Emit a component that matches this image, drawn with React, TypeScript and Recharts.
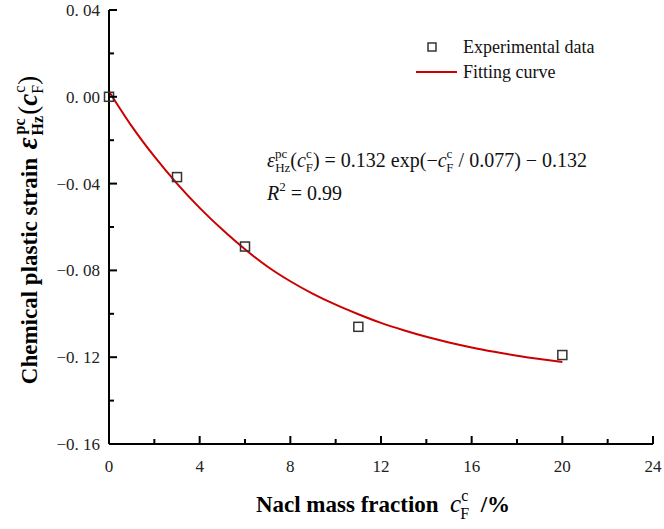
import React from 'react';
import { ComposedChart, Line, Scatter, XAxis, YAxis, Legend } from 'recharts';

// measured points (NaCl mass fraction %, chemical plastic strain)
const massFraction = [0, 3, 6, 11, 20];
const plasticStrain = [0, -0.037, -0.069, -0.106, -0.119];

// fitting curve
const fitFraction = [0, 1, 2, 3, 4, 5, 6, 7, 8, 9, 10, 11, 12, 13, 14, 15, 16, 17, 18, 19, 20];
const fitStrain = [
  0.0025, -0.0135, -0.0275, -0.04, -0.0512, -0.0612, -0.0703, -0.0783, -0.085, -0.0908, -0.0958,
  -0.1002, -0.1042, -0.1076, -0.1106, -0.1132, -0.1155, -0.1175, -0.1193, -0.1208, -0.1222,
];

const xTicks = [0, 2, 4, 6, 8, 10, 12, 14, 16, 18, 20, 22, 24];
const yTicks = [-0.16, -0.14, -0.12, -0.1, -0.08, -0.06, -0.04, -0.02, 0, 0.02, 0.04];

const pointData = massFraction.map((x, i) => ({ x, y: plasticStrain[i] }));
const curveData = fitFraction.map((x, i) => ({ x, y: fitStrain[i] }));

const SERIF = '"Liberation Serif", "Times New Roman", serif';
const RED = '#cc0000';

const fmtY = (v: number) => {
  const s = Math.abs(v).toFixed(2).replace('.', '. ');
  return v < 0 ? '\u2212' + s : s;
};

const YTick = (props: any) => {
  const { x, y, payload } = props;
  const v = payload.value;
  const major = Math.round(v * 100) % 4 === 0;
  return (
    <g>
      <line x1={x} x2={x + (major ? 8 : 5)} y1={y} y2={y} stroke="#000" strokeWidth={2} />
      {major && (
        <text x={x - 9} y={y} dy="0.35em" textAnchor="end" fontFamily={SERIF} fontSize={17} fill="#222">
          {fmtY(v)}
        </text>
      )}
    </g>
  );
};

const XTick = (props: any) => {
  const { x, y, payload } = props;
  const v = payload.value;
  const major = v % 4 === 0;
  return (
    <g>
      <line x1={x} x2={x} y1={y} y2={y - (major ? 8 : 5)} stroke="#000" strokeWidth={2} />
      {major && (
        <text x={x} y={y + 28} textAnchor="middle" fontFamily={SERIF} fontSize={17} fill="#222">
          {v}
        </text>
      )}
    </g>
  );
};

const YTitle = (props: any) => {
  const { viewBox } = props;
  const cy = viewBox.y + viewBox.height / 2 + 3;
  return (
    <text
      transform={`translate(37, ${cy}) rotate(-90)`}
      textAnchor="middle"
      fontFamily={SERIF}
      fontSize={23}
      fontWeight="bold"
      fill="#000"
    >
      Chemical plastic strain{'\u00a0'}
      <tspan fontStyle="italic" fontSize={29} dx={3}>ε</tspan>
      <tspan fontSize={16} dx={3} dy={-12}>pc</tspan>
      <tspan fontSize={16} dx={-17} dy={18}>Hz</tspan>
      <tspan fontWeight="normal" fontSize={27} dx={1} dy={-6}>(</tspan>
      <tspan fontStyle="italic" fontSize={27}>c</tspan>
      <tspan fontSize={16} fontWeight="normal" dx={1} dy={-12}>c</tspan>
      <tspan fontSize={16} fontWeight="normal" dx={-8} dy={18}>F</tspan>
      <tspan fontWeight="normal" fontSize={27} dy={-6}>)</tspan>
    </text>
  );
};

const XTitle = (props: any) => {
  const { viewBox } = props;
  const cx = viewBox.x + viewBox.width / 2 + 2;
  return (
    <text x={cx} y={viewBox.y + 68} textAnchor="middle" fontFamily={SERIF} fontSize={23} fontWeight="bold" fill="#000">
      Nacl mass fraction{'\u00a0\u00a0'}
      <tspan fontStyle="italic" fontWeight="normal" fontSize={25}>c</tspan>
      <tspan fontSize={16} fontWeight="normal" dy={-11}>c</tspan>
      <tspan fontSize={16} fontWeight="normal" dx={-8} dy={18}>F</tspan>
      <tspan dy={-7}>{'\u00a0\u00a0'}/%</tspan>
    </text>
  );
};

const SquareMark = (props: any) => {
  const { cx, cy } = props;
  return <rect x={cx - 4.5} y={cy - 4.5} width={9} height={9} fill="none" stroke="#333" strokeWidth={1.5} />;
};

const LegendBox = (props: any) => {
  const items = [...(props.payload || [])].sort(
    (a: any, b: any) => (a.type === 'square' ? -1 : 1) - (b.type === 'square' ? -1 : 1)
  );
  return (
    <svg width={250} height={56} style={{ display: 'block' }}>
      {items.map((it: any, i: number) => {
        const cy = 17 + i * 25;
        return (
          <g key={it.value}>
            {it.type === 'square' ? (
              <rect x={23} y={cy - 4} width={8} height={8} fill="none" stroke="#333" strokeWidth={1.5} />
            ) : (
              <line x1={11} x2={52} y1={cy} y2={cy} stroke={RED} strokeWidth={2} />
            )}
            <text x={58} y={cy} dy="0.35em" fontFamily={SERIF} fontSize={18} fill="#111">
              {it.value}
            </text>
          </g>
        );
      })}
    </svg>
  );
};

const Equation = () => (
  <svg width={664} height={529} style={{ position: 'absolute', left: 0, top: 0, pointerEvents: 'none' }}>
    <text x={267} y={167} fontFamily={SERIF} fontSize={20} fill="#111">
      <tspan fontStyle="italic">ε</tspan>
      <tspan fontSize={13} dy={-9}>pc</tspan>
      <tspan fontSize={13} dx={-12} dy={14}>Hz</tspan>
      <tspan dy={-5}>(</tspan>
      <tspan fontStyle="italic">c</tspan>
      <tspan fontSize={13} dy={-9}>c</tspan>
      <tspan fontSize={13} dx={-6} dy={14}>F</tspan>
      <tspan dy={-5}>) = 0.132 exp(−</tspan>
      <tspan fontStyle="italic">c</tspan>
      <tspan fontSize={13} dy={-9}>c</tspan>
      <tspan fontSize={13} dx={-6} dy={14}>F</tspan>
      <tspan dy={-5}> / 0.077) − 0.132</tspan>
    </text>
    <text x={267} y={200} fontFamily={SERIF} fontSize={20} fill="#111">
      <tspan fontStyle="italic">R</tspan>
      <tspan fontSize={13} dy={-9}>2</tspan>
      <tspan dy={9}> = 0.99</tspan>
    </text>
  </svg>
);

export default function App() {
  return (
    <div style={{ position: 'absolute', left: 0, top: 0, width: 664, height: 529, background: '#fff' }}>
      <ComposedChart width={664} height={529} margin={{ top: 10, right: 11, bottom: 0, left: 0 }}>
        <XAxis
          dataKey="x"
          type="number"
          domain={[0, 24]}
          ticks={xTicks}
          interval={0}
          height={85}
          tickSize={0}
          tickMargin={0}
          tickLine={false}
          axisLine={{ stroke: '#000', strokeWidth: 2 }}
          tick={<XTick />}
          label={<XTitle />}
        />
        <YAxis
          type="number"
          domain={[-0.16, 0.04]}
          ticks={yTicks}
          interval={0}
          width={109}
          tickSize={0}
          tickMargin={0}
          tickLine={false}
          axisLine={{ stroke: '#000', strokeWidth: 2 }}
          tick={<YTick />}
          label={<YTitle />}
        />
        <Legend
          layout="vertical"
          align="center"
          verticalAlign="middle"
          content={<LegendBox />}
          wrapperStyle={{ left: 405, top: 30, width: 250 }}
        />
        <Line
          data={curveData}
          dataKey="y"
          name="Fitting curve"
          type="monotone"
          stroke={RED}
          strokeWidth={2}
          dot={false}
          activeDot={false}
          legendType="line"
          isAnimationActive={false}
        />
        <Scatter
          data={pointData}
          dataKey="y"
          name="Experimental data"
          shape={<SquareMark />}
          legendType="square"
          isAnimationActive={false}
        />
      </ComposedChart>
      <Equation />
    </div>
  );
}
